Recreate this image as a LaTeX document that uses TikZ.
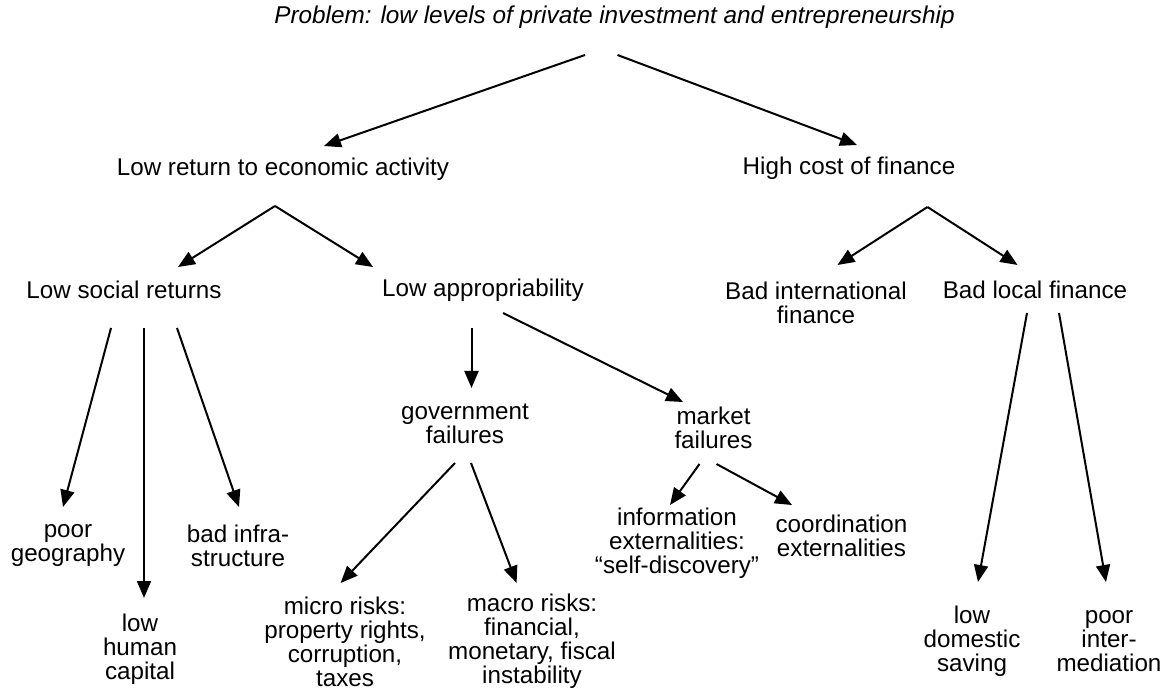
\documentclass[tikz,border=0pt]{standalone}
\usepackage{fontspec}
\setmainfont{Liberation Sans}
\usetikzlibrary{calc,arrows.meta}
\begin{document}
\begin{tikzpicture}[x=1pt,y=-1pt,
  lbl/.style={inner sep=0pt,align=center,font=\fontsize{24.2}{24}\selectfont},
  arr/.style={line width=2pt,-{Triangle[length=17pt,width=14pt]}}]
\useasboundingbox[fill=white] (0,0) rectangle (1162,700);
\node[lbl,font=\fontsize{24.3}{24}\selectfont\itshape] (title) at (614.5,17) {Problem: low levels of private investment and entrepreneurship};
\node[lbl] (lr) at (283,169) {Low return to economic activity};
\node[lbl] (hc) at (849,168) {High cost of finance};
\node[lbl] (ls) at (124,290) {Low social returns};
\node[lbl] (la) at (483,290) {Low appropriability};
\node[lbl] (bi) at (816,302.5) {Bad international\\finance};
\node[lbl] (bl) at (1035,290) {Bad local finance};
\node[lbl] (gf) at (465,424) {government\\failures};
\node[lbl] (mf) at (713.5,427.5) {market\\failures};
\node[lbl] (pg) at (68,545.5) {poor\\geography};
\node[lbl] (bis) at (238,545.5) {bad infra-\\structure};
\node[lbl] (lh) at (140,649) {low\\human\\capital};
\node[lbl] (mi) at (345,641.5) {micro risks:\\property rights,\\corruption,\\taxes};
\node[lbl] (ma) at (532,641.5) {macro risks:\\financial,\\monetary, fiscal\\instability};
\node[lbl] (ie) at (677,543) {information\\externalities:\\“self-discovery”};
\node[lbl] (ce) at (841.5,536) {coordination\\externalities};
\node[lbl] (ld) at (972,641) {low\\domestic\\saving};
\node[lbl] (pi) at (1109,641) {poor\\inter-\\mediation};
\draw[arr] ($(title)+(-29.5,38)$) -- ($(lr)+(41,-23)$);
\draw[arr] ($(title)+(3,38)$) -- ($(hc)+(8,-23)$);
\draw[arr] ($(lr)+(-8,37)$) -- ($(ls)+(54,-23)$);
\draw[arr] ($(lr)+(-8,37)$) -- ($(la)+(-110,-23)$);
\draw[arr] ($(hc)+(78.5,39)$) -- ($(bi)+(21.5,-37.5)$);
\draw[arr] ($(hc)+(78.5,39)$) -- ($(bl)+(-17.5,-25)$);
\draw[arr] ($(ls)+(-13,38)$) -- ($(pg)+(-5,-38.5)$);
\draw[arr] ($(ls)+(20,38)$) -- ($(lh)+(4,-51)$);
\draw[arr] ($(ls)+(53,38)$) -- ($(bis)+(1,-38.5)$);
\draw[arr] ($(la)+(-11.5,38)$) -- ($(gf)+(6.5,-36)$);
\draw[arr] ($(la)+(20,23)$) -- ($(mf)+(-30.5,-25.5)$);
\draw[arr] ($(gf)+(-10,39)$) -- ($(mi)+(-4.4,-58.5)$);
\draw[arr] ($(gf)+(6,39)$) -- ($(ma)+(-15.4,-58.5)$);
\draw[arr] ($(mf)+(-14,36.5)$) -- ($(ie)+(-7,-38)$);
\draw[arr] ($(mf)+(3,36.5)$) -- ($(ce)+(-49.5,-31)$);
\draw[arr] ($(bl)+(-8,23)$) -- ($(ld)+(6,-59)$);
\draw[arr] ($(bl)+(24,23)$) -- ($(pi)+(-3,-59)$);
\end{tikzpicture}
\end{document}
